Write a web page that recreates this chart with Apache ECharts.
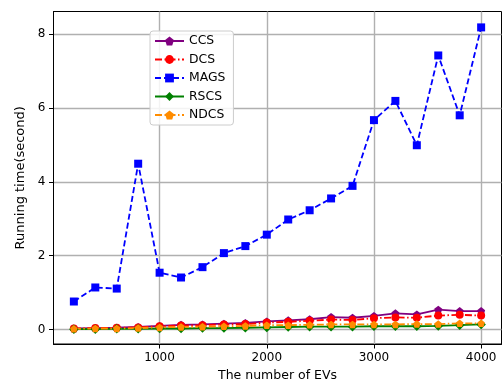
<!DOCTYPE html>
<html>
<head>
<meta charset="utf-8">
<script src="https://cdn.jsdelivr.net/npm/echarts@6/dist/echarts.min.js"></script>
<style>
  html, body { margin: 0; padding: 0; background: #fff; }
  #chart { width: 504px; height: 382px; }
</style>
</head>
<body>
<div id="chart"></div>
<script>
// Number of EVs on the x axis
const evCounts = [200, 400, 600, 800, 1000, 1200, 1400, 1600, 1800, 2000,
                  2200, 2400, 2600, 2800, 3000, 3200, 3400, 3600, 3800, 4000];

// Running time (seconds) per algorithm
const ccs  = [0.03, 0.04, 0.05, 0.07, 0.10, 0.13, 0.14, 0.16, 0.18, 0.22,
              0.25, 0.28, 0.34, 0.32, 0.37, 0.44, 0.41, 0.54, 0.50, 0.50];
const dcs  = [0.03, 0.04, 0.05, 0.06, 0.09, 0.11, 0.12, 0.14, 0.15, 0.19,
              0.21, 0.24, 0.27, 0.26, 0.31, 0.33, 0.32, 0.38, 0.40, 0.38];
const mags = [0.76, 1.14, 1.11, 4.49, 1.54, 1.41, 1.69, 2.07, 2.26, 2.57,
              2.98, 3.23, 3.55, 3.89, 5.67, 6.19, 4.99, 7.42, 5.80, 8.18];
const rscs = [0.01, 0.01, 0.02, 0.02, 0.03, 0.03, 0.04, 0.04, 0.05, 0.06,
              0.07, 0.08, 0.08, 0.08, 0.09, 0.09, 0.09, 0.10, 0.12, 0.14];
const ndcs = [0.02, 0.03, 0.03, 0.04, 0.06, 0.07, 0.08, 0.09, 0.10, 0.12,
              0.12, 0.13, 0.14, 0.14, 0.14, 0.14, 0.15, 0.15, 0.17, 0.17];

const xTicks = [1000, 2000, 3000, 4000];
const yTicks = [0, 2, 4, 6, 8];

const FONT = 'DejaVu Sans';
const PENTAGON = 'path://M0,-1L0.951,-0.309L0.588,0.809L-0.588,0.809L-0.951,-0.309Z';

function pairs(values) {
  return evCounts.map((x, i) => [x, values[i]]);
}

function lineSeries(name, values, color, symbol, size, dash) {
  return {
    name: name,
    type: 'line',
    data: pairs(values),
    symbol: symbol,
    symbolSize: size,
    showAllSymbol: true,
    animation: false,
    lineStyle: { color: color, width: 1.8, type: dash },
    itemStyle: { color: color, borderWidth: 0 },
    emphasis: { disabled: true }
  };
}

const chart = echarts.init(document.getElementById('chart'), null, { renderer: 'canvas' });

chart.setOption({
  backgroundColor: '#fff',
  animation: false,
  grid: {
    left: 53.5, right: 2.5, top: 11.5, bottom: 38,
    outerBoundsMode: 'none',
    containLabel: false,
    show: true, borderColor: '#000', borderWidth: 1, backgroundColor: 'transparent'
  },
  legend: {
    left: 150, top: 31,
    orient: 'vertical',
    itemWidth: 29, itemHeight: 11, itemGap: 4.5,
    padding: [3, 8, 3, 4],
    backgroundColor: 'rgba(255,255,255,0.85)',
    borderColor: '#cccccc', borderWidth: 1, borderRadius: 3,
    textStyle: { fontFamily: FONT, fontSize: 12.4, color: '#000', lineHeight: 14 },
    data: ['CCS', 'DCS', 'MAGS', 'RSCS', 'NDCS']
  },
  xAxis: {
    type: 'value',
    min: 10, max: 4190,
    name: 'The number of EVs',
    nameLocation: 'middle',
    nameGap: 24,
    nameTextStyle: { fontFamily: FONT, fontSize: 12.5, color: '#000' },
    axisLine: { show: true, onZero: false, lineStyle: { color: '#000', width: 1 } },
    axisTick: { show: true, length: 4.5, customValues: xTicks, lineStyle: { color: '#000', width: 1 } },
    axisLabel: {
      customValues: xTicks, margin: 8, fontFamily: FONT, fontSize: 12, color: '#000',
      formatter: v => String(v)
    },
    splitLine: { show: true, lineStyle: { color: '#b0b0b0', width: 1.4 } }
  },
  yAxis: {
    type: 'value',
    min: -0.39, max: 8.61,
    name: 'Running time(second)',
    nameLocation: 'middle',
    nameGap: 10,
    nameTextStyle: { fontFamily: FONT, fontSize: 13, color: '#000' },
    axisLine: { show: true, onZero: false, lineStyle: { color: '#000', width: 1 } },
    axisTick: { show: true, length: 4.5, customValues: yTicks, lineStyle: { color: '#000', width: 1 } },
    axisLabel: {
      customValues: yTicks, margin: 8, fontFamily: FONT, fontSize: 12, color: '#000',
      formatter: v => String(v)
    },
    splitLine: { show: true, lineStyle: { color: '#b0b0b0', width: 1.4 } }
  },
  series: [
    lineSeries('CCS', ccs, '#800080', PENTAGON, 8, 'solid'),
    lineSeries('DCS', dcs, '#ff0000', 'circle', 8, [7, 2.5, 1.5, 2.5]),
    lineSeries('MAGS', mags, '#0000ff', 'rect', 8, [6, 3]),
    lineSeries('RSCS', rscs, '#008000', 'diamond', 9.5, 'solid'),
    lineSeries('NDCS', ndcs, '#ff8c00', PENTAGON, 7.5, [7, 2.5, 1.5, 2.5])
  ]
});
</script>
</body>
</html>
